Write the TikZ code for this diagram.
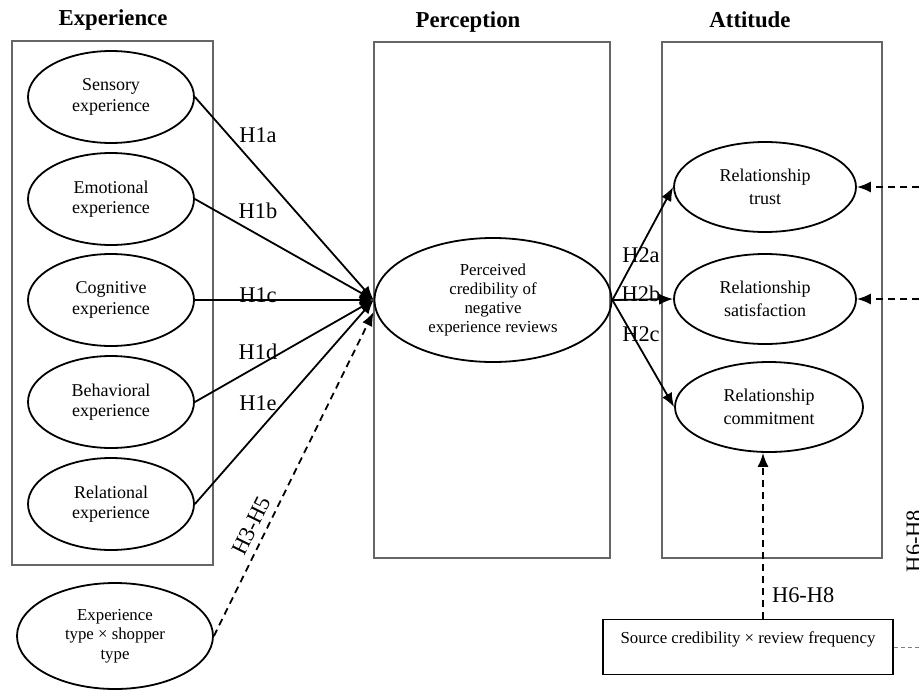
\documentclass[tikz,border=0pt]{standalone}
\usepackage{fontspec}
\setmainfont{Liberation Serif}
\usetikzlibrary{shapes.geometric,arrows.meta,positioning}
\tikzset{
  panel/.style={draw=black!60, line width=0.7pt},
  construct/.style={ellipse, draw, line width=0.9pt, align=center, inner sep=0pt, font=\fontsize{9}{10.3}\selectfont},
  expc/.style={construct, minimum width=83pt, minimum height=46pt},
  attc/.style={construct, minimum width=91pt, minimum height=45pt, font=\fontsize{9}{11.5}\selectfont},
  heading/.style={font=\fontsize{11.4}{13}\selectfont\bfseries, anchor=base},
  hyp/.style={font=\fontsize{11.2}{13}\selectfont},
  link/.style={-{Latex[length=7pt,width=5.5pt]}, line width=0.9pt},
  modlink/.style={link, dash pattern=on 3.5pt off 2.5pt},
  srcbox/.style={draw, line width=0.9pt, minimum width=145pt, minimum height=27.5pt, text depth=9pt, font=\fontsize{8.4}{10}\selectfont}
}

\begin{document}
\begin{tikzpicture}[x=0.5pt,y=-0.5pt]
  \clip (0,0) rectangle (919,690);
  % headings
  \node[heading] (hexp) at (113,26) {Experience};
  \node[heading] (hper) at (468,28) {Perception};
  \node[heading] (hatt) at (750,28) {Attitude};
  % panels
  \draw[panel] (12,41) rectangle (213,565);
  \draw[panel] (374,42) rectangle (610,558);
  \draw[panel] (662,42) rectangle (882,558);
  % experience dimensions
  \node[expc] (sens) at (111,97) {Sensory\\experience};
  \node[expc] (emo) at (111,199) {Emotional\\experience};
  \node[expc] (cog) at (111,300) {Cognitive\\experience};
  \node[expc] (beh) at (111,402) {Behavioral\\experience};
  \node[expc] (rel) at (111,504) {Relational\\experience};
  % perception
  \node[construct, minimum width=118.5pt, minimum height=62pt, font=\fontsize{8.4}{9.5}\selectfont] (perc) at (493,300) {Perceived\\credibility of\\negative\\experience reviews};
  % attitude
  \node[attc] (trust) at (765,187) {Relationship\\trust};
  \node[attc] (sat) at (765,299) {Relationship\\satisfaction};
  \node[attc, minimum width=94pt] (commit) at (769,407) {Relationship\\commitment};
  % H1 and H2 paths
  \foreach \dim/\lab/\ly in {sens/H1a/135, emo/H1b/211, cog/H1c/295, beh/H1d/352, rel/H1e/403}{
    \draw[link] (\dim.east) -- (perc.west);
    \node[hyp] (\lab) at (258,\ly) {\lab};
  }
  \foreach \att/\lab/\ly in {trust/H2a/255, sat/H2b/294, commit/H2c/334}{
    \draw[link] (perc.east) -- (\att.west);
    \node[hyp] (\lab) at (641,\ly) {\lab};
  }
  % moderators
  \node[construct, minimum width=98pt, minimum height=53pt, font=\fontsize{8.4}{9.8}\selectfont] (xtype) at (115,636) {Experience\\type × shopper\\type};
  \draw[modlink] (xtype.east) -- ([yshift=-6pt]perc.west) node[hyp, sloped, above, pos=0.32] (h35) {H3-H5};
  \node[srcbox] (src) at (748,647) {Source credibility × review frequency};
  \draw[modlink] ([xshift=7.5pt]src.north) -- ([xshift=7.5pt]src.north |- commit.south);
  \node[hyp, anchor=west] (h68) at (765,595) {H6-H8};
  \coordinate (rimA) at (919,187);
  \coordinate (rimB) at (919,299);
  \coordinate (rimC) at (919,647);
  \draw[modlink] (rimA) -- (trust.east);
  \draw[modlink] (rimB) -- (sat.east);
  \draw[black!50, line width=0.5pt, dash pattern=on 2pt off 1.5pt] (src.east) -- (rimC);
  \node[hyp, rotate=90] (h68r) at (914,541) {H6-H8};
\end{tikzpicture}
\end{document}
